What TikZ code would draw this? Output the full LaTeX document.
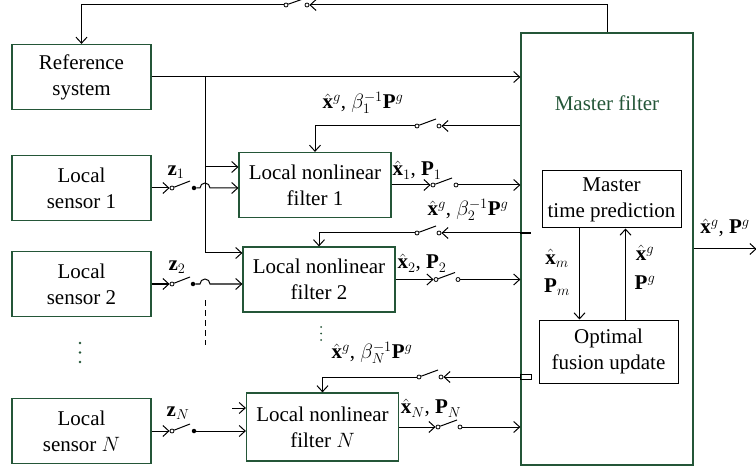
\documentclass[tikz,border=0pt]{standalone}
\usepackage{fontspec}
\setmainfont{Liberation Serif}
\usepackage{xcolor}
\usepackage{tikz}
\usetikzlibrary{arrows.meta, positioning, calc}

\definecolor{boxgreen}{RGB}{36,86,56}

\begin{document}
\begin{tikzpicture}[
				x=1pt, y=-1pt,
				>={Straight Barb[length=6pt,width=11pt]},
				font=\fontsize{21}{26}\selectfont,
				block/.style={draw=boxgreen, line width=1.2pt, align=center, inner sep=0pt},
				sensor/.style={block, minimum width=139pt, minimum height=65pt},
				filter/.style={block, minimum width=152pt, minimum height=65pt},
				inner/.style={draw, line width=1pt, align=center, inner sep=0pt, minimum width=139pt},
				arrow/.style={->, line width=1pt},
				wire/.style={line width=1pt},
				contact/.style={circle, draw, fill=white, inner sep=0pt, minimum size=4pt, line width=0.8pt},
				closed/.style={circle, fill, inner sep=0pt, minimum size=4.5pt},
				lbl/.style={inner sep=1pt}
				]
				\useasboundingbox (0,0) rectangle (756,468);
				
				% Bloques
				\node[sensor] (RS) at (81.5,77) {Reference\\system};
				\node[sensor] (S1) at (81.5,188) {Local\\sensor 1};
				\node[sensor] (S2) at (81.5,284) {Local\\sensor 2};
				\node[sensor] (SN) at (81.5,431) {Local\\sensor $N$};
				\node[filter] (F1) at (315,185) {Local nonlinear\\filter 1};
				\node[filter] (F2) at (319,279.5) {Local nonlinear\\filter 2};
				\node[filter, minimum height=68pt] (FN) at (322.5,427) {Local nonlinear\\filter $N$};
				
				% Master
				\node[block, minimum width=172pt, minimum height=432pt] (M) at (607,249) {};
				\node[text=boxgreen] (Mlabel) at (607,103) {Master filter};
				\node[inner, minimum height=57pt] (MT) at (611.5,199.5) {Master\\time prediction};
				\node[inner, minimum height=63pt] (OF) at (608.5,351.5) {Optimal\\fusion update};
				
				% Contactos
				\node[contact] (t1) at (286,5) {};
				\node[contact] (t2) at (307,5) {};
				\node[contact] (c1a) at (172,188) {};
				\node[closed] (c1b) at (194,188) {};
				\node[contact] (c2a) at (172,284) {};
				\node[closed] (c2b) at (193,284) {};
				\node[contact] (cNa) at (172,431) {};
				\node[closed] (cNb) at (194,431) {};
				\node[contact] (o1a) at (433,185) {};
				\node[contact] (o1b) at (456,185) {};
				\node[contact] (o2a) at (436,279.5) {};
				\node[contact] (o2b) at (458,279.5) {};
				\node[contact] (oNa) at (438,427) {};
				\node[contact] (oNb) at (460,427) {};
				\node[contact] (r1a) at (417,126) {};
				\node[contact] (r1b) at (439,126) {};
				\node[contact] (r2a) at (417,233) {};
				\node[contact] (r2b) at (439,233) {};
				\node[contact] (rNa) at (419,377) {};
				\node[contact] (rNb) at (441,377) {};
				
				% Bus
				\coordinate (B0) at (205,77);
				\coordinate (B1) at (205,167);
				\coordinate (B2) at (205,253);
				\coordinate (B3) at (205,300);
				\coordinate (B4) at (205,345);
				\coordinate (BN) at (232,408);
				\draw[wire] (B0) -- (B2);
				\draw[wire, dashed, dash pattern=on 6pt off 4pt] (B3) -- (B4);
				
				% Lazo superior
				\draw[arrow] (M.north) |- (t2);
				\draw[arrow] (t1) -| (RS.north);
				\draw[wire] (t1) -- ++(17,-6);
				
				% Sensores
				\path[arrow]
				(S1.east) edge (c1a)
				(S2.east) edge (c2a)
				(SN.east) edge (cNa);
				\draw[wire] (c1a) -- ++(18,-7);
				\draw[wire] (c2a) -- ++(18,-7);
				\draw[wire] (cNa) -- ++(18,-7);
				\draw[arrow] (c1b) -- (200,188) arc[start angle=180, end angle=360, radius=5] -- (F1.west |- c1b);
				\draw[arrow] (c2b) -- (200,284) arc[start angle=180, end angle=360, radius=5] -- (F2.west |- c2b);
				\draw[arrow] (cNb) -- (FN.west |- cNb);
				
				% Hacia filtros locales
				\path[arrow]
				(B1) edge (F1.west |- B1)
				(B2) edge (F2.west |- B2)
				(BN) edge (FN.west |- BN);
				
				% Hacia Master
				\path[arrow]
				(RS.east) edge (RS.east -| M.west)
				(F1.east) edge (o1a)
				(F2.east) edge (o2a)
				(FN.east) edge (oNa)
				(o1b) edge (o1b -| M.west)
				(o2b) edge (o2b -| M.west)
				(oNb) edge (oNb -| M.west);
				\draw[wire] (o1a) -- ++(19,-7);
				\draw[wire] (o2a) -- ++(19,-7);
				\draw[wire] (oNa) -- ++(19,-7);
				
				% Realimentacion
				\path[arrow]
				(r1b -| M.west) edge (r1b)
				(r2b -| M.west) edge (r2b)
				(rNb -| M.west) edge (rNb);
				\draw[arrow] (r1a) -| (F1.north);
				\draw[arrow] (r2a) -| (F2.north);
				\draw[arrow] (rNa) -| (FN.north);
				\draw[wire] (r1a) -- ++(19,-7);
				\draw[wire] (r2a) -- ++(19,-7);
				\draw[wire] (rNa) -- ++(19,-7);
				\draw[line width=2.5pt] (r2b -| M.west) -- ++(11,0);
				\draw[line width=0.8pt] ([yshift=2.5pt]rNb -| M.west) rectangle ++(11,4.5);
				
				% Dentro del Master
				\draw[arrow] ([xshift=-32pt]MT.south) -- ([xshift=-32pt]MT.south |- OF.north);
				\draw[arrow] ([xshift=14pt]MT.south |- OF.north) -- ([xshift=14pt]MT.south);
				\draw[arrow] (M.east) -- ++(63,0);
				
				% Etiquetas
				\node[lbl] at (176,172) {$\mathbf{z}_1$};
				\node[lbl] at (177,267) {$\mathbf{z}_2$};
				\node[lbl] at (178,413) {$\mathbf{z}_N$};
				\node[lbl] at (417,170) {$\hat{\mathbf{x}}_1$, $\mathbf{P}_1$};
				\node[lbl] at (422,263) {$\hat{\mathbf{x}}_2$, $\mathbf{P}_2$};
				\node[lbl] at (431,408) {$\hat{\mathbf{x}}_N$, $\mathbf{P}_N$};
				\node[lbl] at (363,103) {$\hat{\mathbf{x}}^g$, $\beta_1^{-1}\mathbf{P}^g$};
				\node[lbl] at (468,210) {$\hat{\mathbf{x}}^g$, $\beta_2^{-1}\mathbf{P}^g$};
				\node[lbl] at (372,353) {$\hat{\mathbf{x}}^g$, $\beta_N^{-1}\mathbf{P}^g$};
				\node[lbl] at (557,258) {$\hat{\mathbf{x}}_m$};
				\node[lbl] at (557,287) {$\mathbf{P}_m$};
				\node[lbl] at (645,253) {$\hat{\mathbf{x}}^g$};
				\node[lbl] at (645,283) {$\mathbf{P}^g$};
				\node[lbl] at (725,228) {$\hat{\mathbf{x}}^g$, $\mathbf{P}^g$};
				
				% Puntos suspensivos
				\foreach \y in {343,352.5,362}
				\fill[boxgreen] (80,\y) circle[radius=1.3];
				\foreach \y in {327,333.5,340}
				\fill[boxgreen] (321,\y) circle[radius=1];
				
			\end{tikzpicture}
\end{document}
